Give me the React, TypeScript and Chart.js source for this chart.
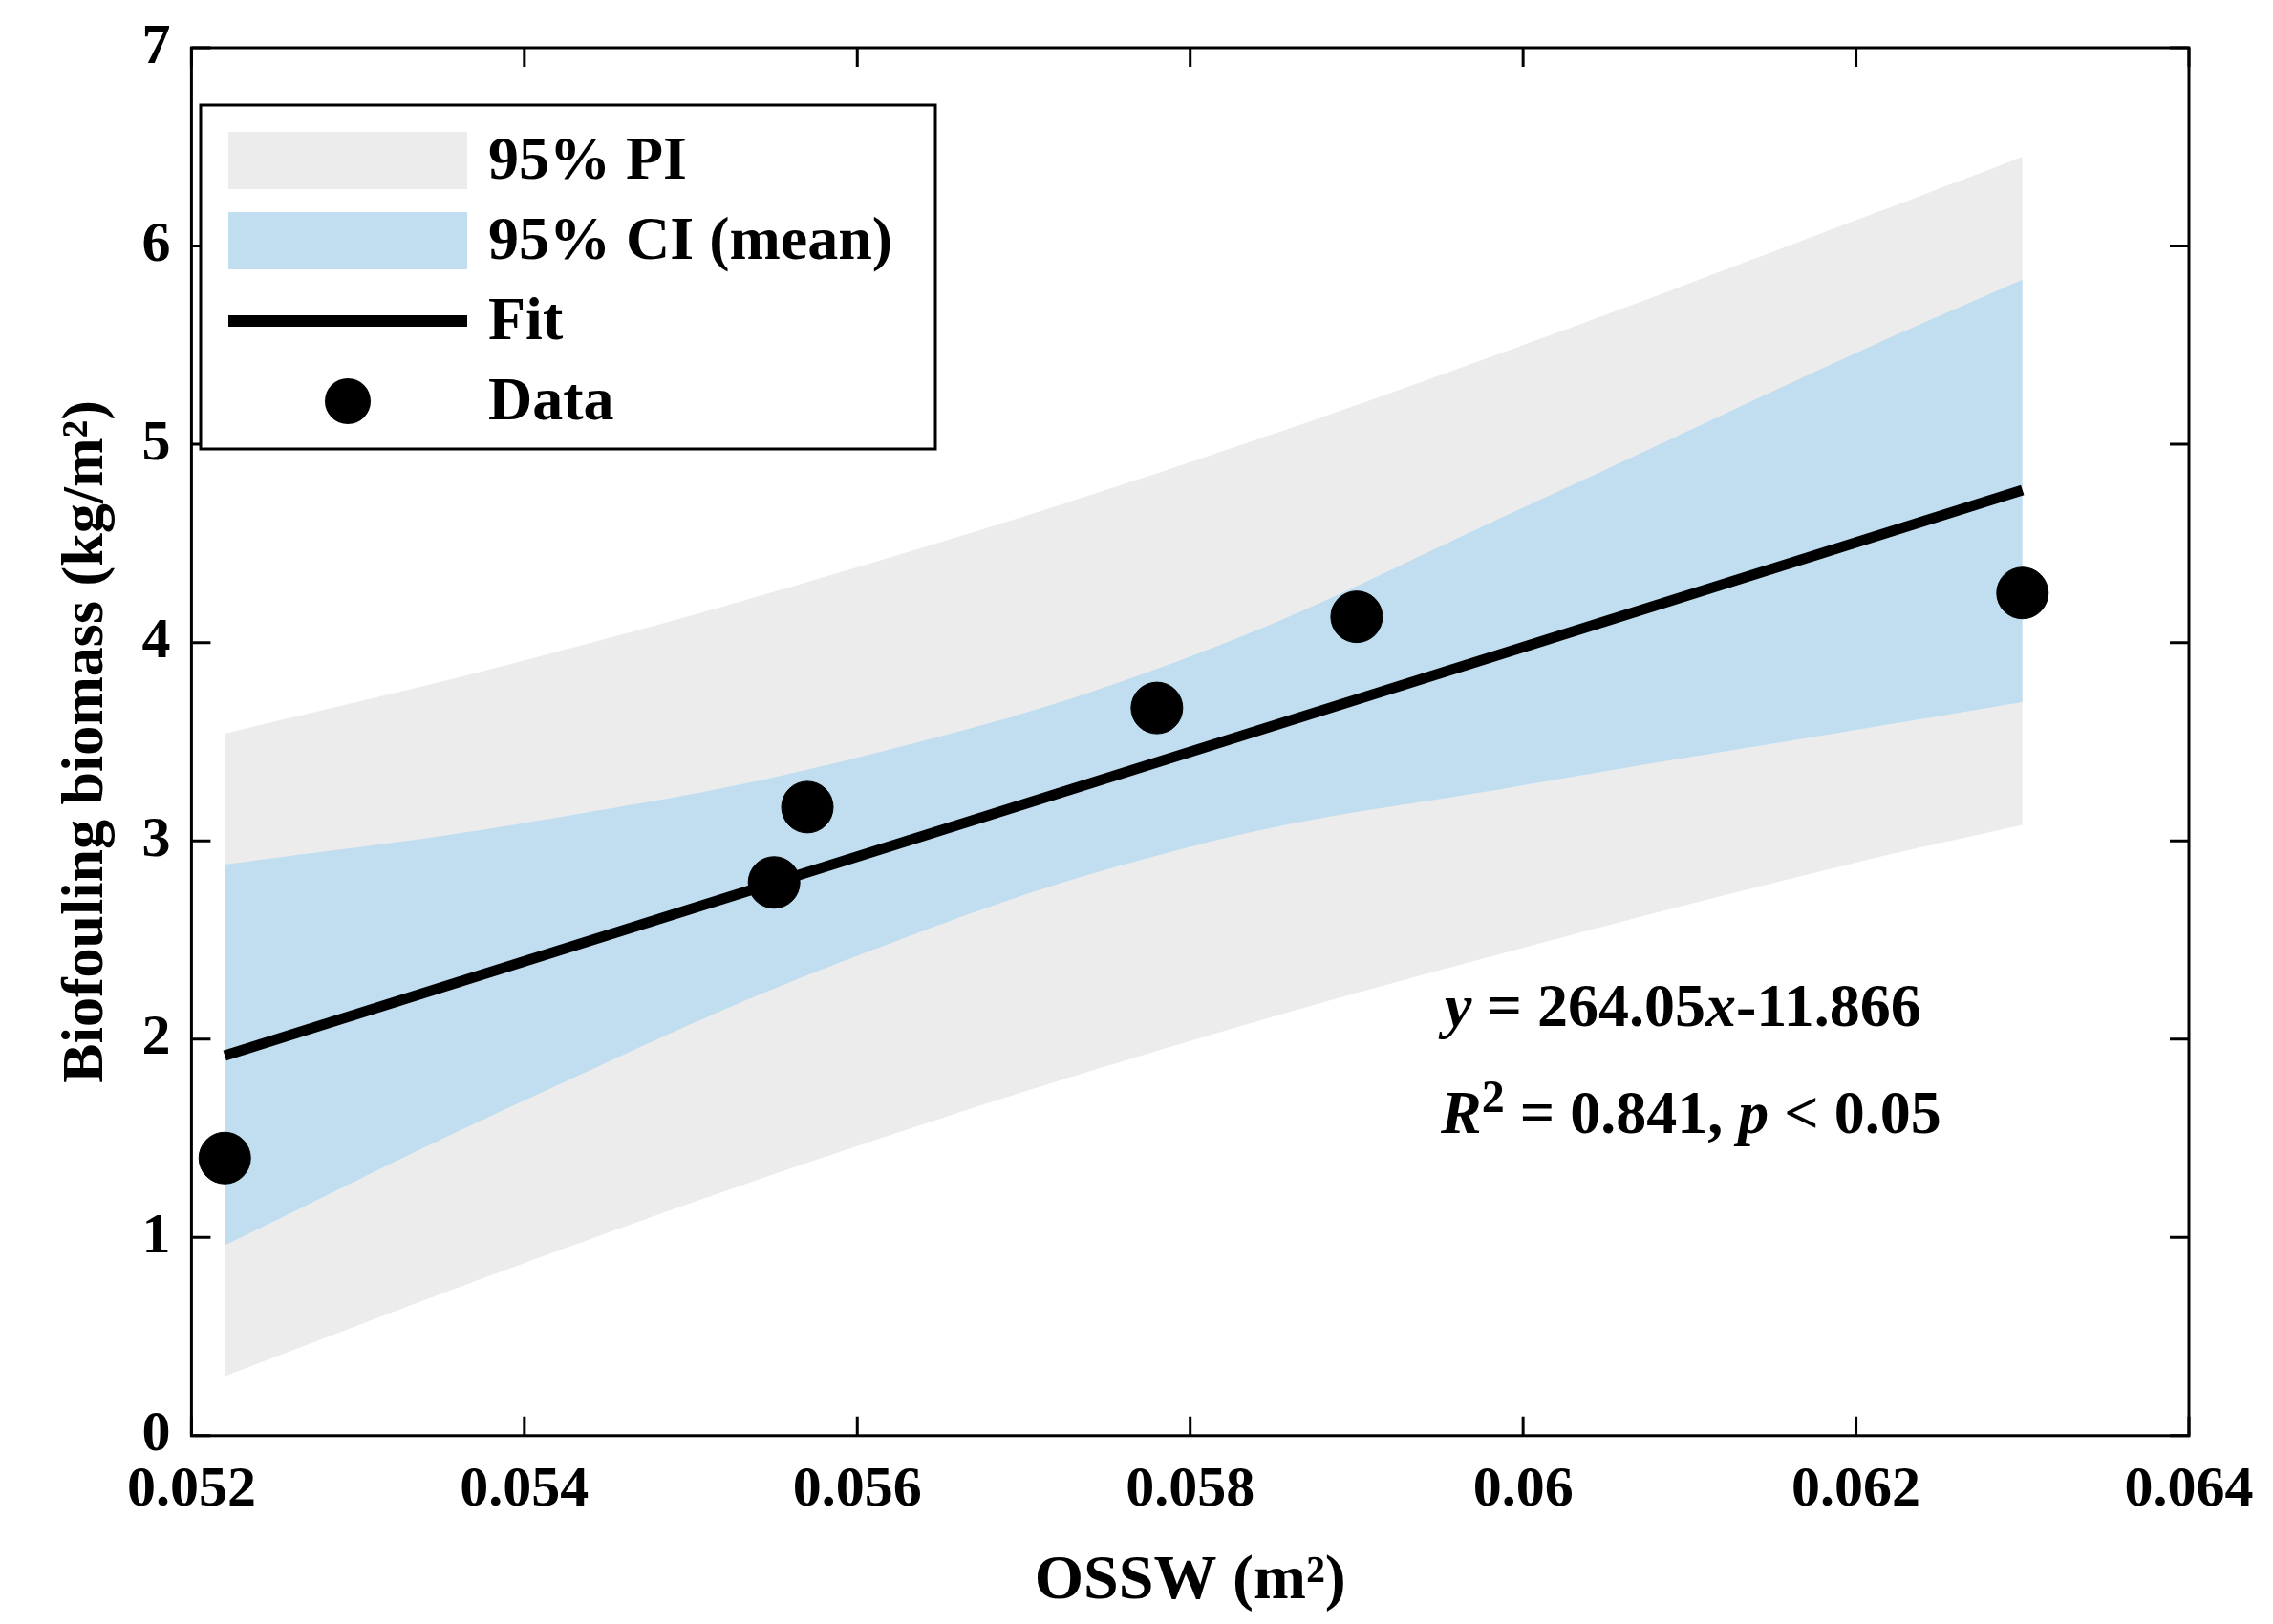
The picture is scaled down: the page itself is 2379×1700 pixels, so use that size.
import React, { useEffect, useRef } from "react";
import { Chart, registerables } from "chart.js";
Chart.register(...registerables);

const bandX = [0.0522, 0.054, 0.056, 0.058, 0.06, 0.062, 0.063];
const piUpper = [3.54, 3.91, 4.38, 4.91, 5.5, 6.13, 6.45];
const piLower = [0.3, 0.87, 1.46, 1.99, 2.46, 2.89, 3.08];
const ciUpper = [2.88, 3.09, 3.42, 3.93, 4.68, 5.46, 5.83];
const ciLower = [0.96, 1.69, 2.42, 2.97, 3.28, 3.56, 3.7];
const fitX = [0.0522, 0.063];
const fitY = [1.917, 4.769];
const dataX = [0.0522, 0.0555, 0.0557, 0.0578, 0.059, 0.063];
const dataY = [1.4, 2.79, 3.17, 3.67, 4.13, 4.25];
const legendLabels = ["95% PI", "95% CI (mean)", "Fit", "Data"];

const F = "'Liberation Serif', 'Times New Roman', serif";
const pts = (xs: number[], ys: number[]) => xs.map((x, i) => ({ x, y: ys[i] }));

export default function App() {
  const ref = useRef<HTMLCanvasElement>(null);
  useEffect(() => {
    document.body.style.margin = "0";
    const deco = {
      id: "deco",
      afterDraw(c: any) {
        const ctx = c.ctx;
        const { left, right, top, bottom } = c.chartArea;
        const xs = c.scales.x, ys = c.scales.y;
        ctx.save();
        ctx.strokeStyle = "#000";
        ctx.lineWidth = 3;
        ctx.strokeRect(left, top, right - left, bottom - top);
        const tl = 20;
        ctx.beginPath();
        xs.ticks.forEach((t: any) => {
          const p = xs.getPixelForValue(t.value);
          ctx.moveTo(p, bottom); ctx.lineTo(p, bottom - tl);
          ctx.moveTo(p, top); ctx.lineTo(p, top + tl);
        });
        ys.ticks.forEach((t: any) => {
          const p = ys.getPixelForValue(t.value);
          ctx.moveTo(left, p); ctx.lineTo(left + tl, p);
          ctx.moveTo(right, p); ctx.lineTo(right - tl, p);
        });
        ctx.stroke();
        // legend
        const lx = 210, ly = 110, lw = 769, lh = 360;
        ctx.fillStyle = "#fff";
        ctx.fillRect(lx, ly, lw, lh);
        ctx.lineWidth = 3;
        ctx.strokeRect(lx, ly, lw, lh);
        const rows = [168, 252, 336, 420];
        ctx.fillStyle = "#ececec"; ctx.fillRect(239, rows[0] - 30, 250, 60);
        ctx.fillStyle = "#c0def0"; ctx.fillRect(239, rows[1] - 30, 250, 60);
        ctx.fillStyle = "#000"; ctx.fillRect(239, rows[2] - 6, 250, 12);
        ctx.beginPath(); ctx.arc(364, rows[3], 24, 0, Math.PI * 2); ctx.fill();
        ctx.font = `bold 64px ${F}`;
        ctx.textBaseline = "middle";
        legendLabels.forEach((l, i) => ctx.fillText(l, 511, rows[i] + 2));
        // annotation
        const seg = (parts: [string, boolean, boolean?][], x: number, y: number) => {
          parts.forEach(([s, it, sup]) => {
            ctx.font = `${it ? "italic " : ""}bold ${sup ? 48 : 64}px ${F}`;
            ctx.fillText(s, x, sup ? y - 22 : y);
            x += ctx.measureText(s).width;
          });
        };
        ctx.textBaseline = "alphabetic";
        seg([["y", true], [" = 264.05", false], ["x", true], ["-11.866", false]], 1512, 1074);
        seg([["R", true], ["2", false, true], [" = 0.841, ", false], ["p", true], [" < 0.05", false]], 1508, 1186);
        ctx.restore();
      },
    };
    const chart = new Chart(ref.current!, {
      type: "line",
      data: {
        datasets: [
          { data: pts(dataX, dataY), showLine: false, pointRadius: 27, pointBackgroundColor: "#000", pointBorderColor: "#000", fill: false },
          { data: pts(fitX, fitY), borderColor: "#000", borderWidth: 11, pointRadius: 0, fill: false },
          { data: pts(bandX, ciLower), borderWidth: 0, pointRadius: 0, fill: false, tension: 0.4 },
          { data: pts(bandX, ciUpper), borderWidth: 0, pointRadius: 0, fill: "-1", backgroundColor: "#c0def0", tension: 0.4 },
          { data: pts(bandX, piLower), borderWidth: 0, pointRadius: 0, fill: false, tension: 0.4 },
          { data: pts(bandX, piUpper), borderWidth: 0, pointRadius: 0, fill: "-1", backgroundColor: "#ececec", tension: 0.4 },
        ],
      } as any,
      plugins: [deco],
      options: {
        animation: false,
        responsive: false,
        layout: { padding: { top: 50, right: 88, left: 50, bottom: 0 } },
        plugins: { legend: { display: false }, tooltip: { enabled: false } },
        scales: {
          x: {
            type: "linear", min: 0.052, max: 0.064,
            grid: { display: false },
            border: { display: false },
            ticks: { stepSize: 0.002, color: "#000", font: { family: F, size: 60, weight: "bold" }, padding: 14, maxRotation: 0,
              callback: (v: any) => String(Number(Number(v).toFixed(3))) },
            title: { display: true, text: "OSSW (m²)", color: "#000", font: { family: F, size: 66, weight: "bold" }, padding: { top: 6 } },
          },
          y: {
            min: 0, max: 7,
            grid: { display: false },
            border: { display: false },
            ticks: { stepSize: 1, color: "#000", font: { family: F, size: 60, weight: "bold" }, padding: 14 },
            title: { display: true, text: "Biofouling biomass (kg/m²)", color: "#000", font: { family: F, size: 62, weight: "bold" }, padding: { bottom: 6 } },
          },
        },
      } as any,
    });
    return () => chart.destroy();
  }, []);
  return <canvas ref={ref} width={2379} height={1700} style={{ display: "block" }} />;
}
